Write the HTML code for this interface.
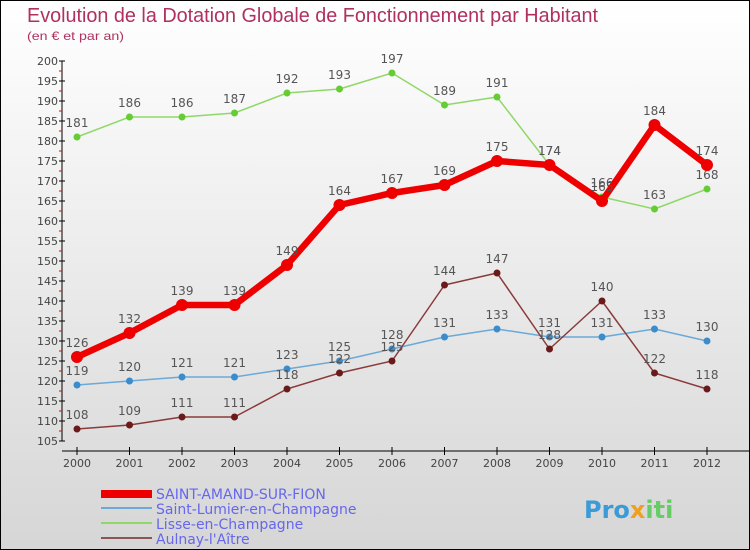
<!DOCTYPE html>
<html><head><meta charset="utf-8"><style>
body{margin:0}
#c{width:748px;height:548px;border:1px solid #000;background:linear-gradient(#fff,#d6d6d6);position:relative;overflow:hidden;font-family:"DejaVu Sans","Liberation Sans",sans-serif}
</style></head><body>
<div id="c">
<svg width="748" height="548" xmlns="http://www.w3.org/2000/svg" id="s">
<text x="26" y="21" font-size="20" fill="#b03060" font-family="Liberation Sans, sans-serif" textLength="571" lengthAdjust="spacingAndGlyphs">Evolution de la Dotation Globale de Fonctionnement par Habitant</text>
<text x="26" y="39" font-size="12" fill="#b03060" font-family="Liberation Sans, sans-serif" textLength="97" lengthAdjust="spacingAndGlyphs">(en € et par an)</text>
<g id="axes"></g><g id="series"></g>
<g>
<rect x="100" y="489" width="51" height="8" fill="#e00"/>
<line x1="100" y1="507" x2="151" y2="507" stroke="#6aa9d8" stroke-width="2"/>
<line x1="100" y1="522" x2="151" y2="522" stroke="#8fd868" stroke-width="2"/>
<line x1="100" y1="537" x2="151" y2="537" stroke="#8b5555" stroke-width="2"/>
<g font-size="14" fill="#6666ee">
<text x="155" y="498">SAINT-AMAND-SUR-FION</text>
<text x="155" y="513">Saint-Lumier-en-Champagne</text>
<text x="155" y="528">Lisse-en-Champagne</text>
<text x="155" y="543">Aulnay-l'Aître</text>
</g></g>
<text x="583" y="517" font-size="24" font-weight="bold" fill="#3a9bd8">Pro<tspan fill="#f0a020">x</tspan><tspan fill="#6c6">iti</tspan></text>
</svg></div>
<script>
const years=[2000,2001,2002,2003,2004,2005,2006,2007,2008,2009,2010,2011,2012];
const yTicks=[105,110,115,120,125,130,135,140,145,150,155,160,165,170,175,180,185,190,195,200];
const lisse=[181,186,186,187,192,193,197,189,191,174,166,163,168];
const lumier=[119,120,121,121,123,125,128,131,133,131,131,133,130];
const aulnay=[108,109,111,111,118,122,125,144,147,128,140,122,118];
const amand=[126,132,139,139,149,164,167,169,175,174,165,184,174];
const NS="http://www.w3.org/2000/svg";
const X=i=>76+52.5*i, Y=v=>60+(200-v)*4;
function mk(p,t,a){const e=document.createElementNS(NS,t);for(const k in a)e.setAttribute(k,a[k]);p.appendChild(e);return e;}
const ax=document.getElementById('axes'), sg=document.getElementById('series');
let e=mk(ax,'line',{x1:61,y1:60,x2:61,y2:440,stroke:'#000'});


e=mk(ax,'line',{x1:61,y1:450,x2:748,y2:450,stroke:'#000'});


yTicks.forEach(v=>{
 mk(ax,'line',{x1:58,y1:Y(v),x2:64,y2:Y(v),stroke:'#000'});
 if(v<200) mk(ax,'line',{x1:58,y1:Y(v+2.5),x2:61,y2:Y(v+2.5),stroke:'#e00'});
 const t=mk(ax,'text',{x:57,y:Y(v)+4,'font-size':11,fill:'#444','text-anchor':'end'});t.textContent=v;
 
 
});
years.forEach((y,i)=>{
 mk(ax,'line',{x1:X(i),y1:446,x2:X(i),y2:454,stroke:'#000'});
 const t=mk(ax,'text',{x:X(i),y:466,'font-size':11,fill:'#444','text-anchor':'middle'});t.textContent=y;
 
 
});
function series(d,name,color,w,r,dot){
 const g=mk(sg,'g',{});
 
 
 const p=mk(g,'polyline',{points:d.map((v,i)=>X(i)+','+Y(v)).join(' '),fill:'none',stroke:color,'stroke-width':w,'stroke-linejoin':'round'});
 
 
 d.forEach((v,i)=>{
  const c=mk(g,'circle',{cx:X(i),cy:Y(v),r:r,fill:dot});
  
  
  const t=mk(g,'text',{x:X(i),y:Y(v)-10,'font-size':12,fill:'#555','text-anchor':'middle'});t.textContent=v;
  
  
 });
}
series(lisse,'lisse','#8fd868',1.5,3.5,'#6c3');
series(lumier,'saint-lumier','#6aa9d8',1.5,3.5,'#3a8ccc');
series(aulnay,'aulnay','#8b3a3a',1.5,3.5,'#6b1a1a');
series(amand,'saint-amand','#e00',6.5,6,'#e00');
</script>
</body></html>
